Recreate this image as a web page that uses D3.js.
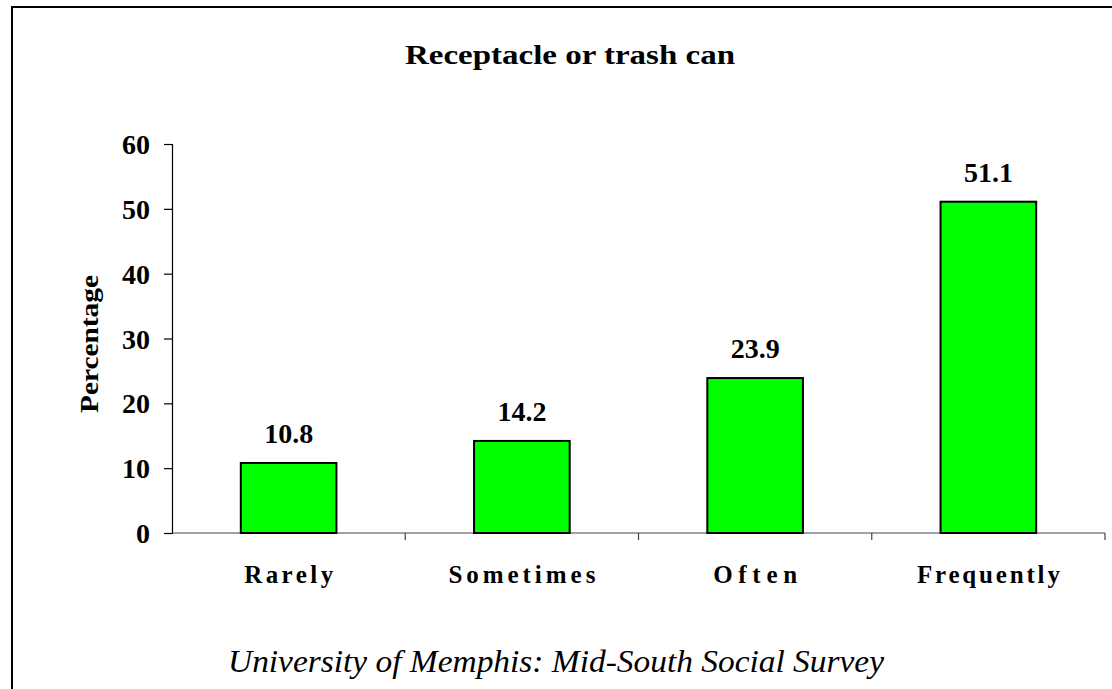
<!DOCTYPE html>
<html><head><meta charset="utf-8">
<script src="https://cdn.jsdelivr.net/npm/d3@7"></script>
<style>
html,body{margin:0;padding:0;background:#fff;}
svg{display:block;}
</style></head><body>
<svg id="chart" width="1112" height="689"></svg>
<script>
const categories = ["Rarely", "Sometimes", "Often", "Frequently"];
const values = [10.8, 14.2, 23.9, 51.1];
const yTicks = [0, 10, 20, 30, 40, 50, 60];
const titleText = "Receptacle or trash can";
const yAxisTitle = "Percentage";
const footerText = "University of Memphis: Mid-South Social Survey";
const catLabelWidths = [89, 147, 84, 143];

const SERIF = "'Liberation Serif', 'Times New Roman', Times, serif";
const svg = d3.select("#chart");
const plot = {left: 172, right: 1105, top: 144, bottom: 533};

// frame
svg.append("path").attr("d", "M12,689 L12,7 L1112,7")
  .attr("fill", "none").attr("stroke", "#000").attr("stroke-width", 2);

const x = d3.scaleBand().domain(categories).range([plot.left, plot.right]).paddingInner(0.59).paddingOuter(0.295);
const xb = d3.scaleBand().domain(categories).range([plot.left, plot.right]);
const y = d3.scaleLinear().domain([0, 60]).range([plot.bottom, plot.top]);

// y axis
const yAxis = svg.append("g").attr("transform", `translate(${plot.left},0)`)
  .call(d3.axisLeft(y).tickValues(yTicks).tickSize(8).tickPadding(14).tickFormat(d3.format("d")));
yAxis.attr("font-family", SERIF);
yAxis.select(".domain").attr("stroke", "#000").attr("stroke-width", 1.2);
yAxis.selectAll(".tick line").attr("stroke", "#000").attr("stroke-width", 1.2);
yAxis.selectAll(".tick text").style("font-family", SERIF).style("font-weight", "bold")
  .style("font-size", "28px").attr("fill", "#000").attr("dy", "0.34em");

// x axis line with ticks at band boundaries
const xAxis = svg.append("g").attr("transform", `translate(0,${plot.bottom})`);
xAxis.append("line").attr("x1", plot.left).attr("x2", plot.right).attr("stroke", "#444").attr("stroke-width", 1.2);
const bounds = categories.map(c => xb(c)).concat([xb(categories[categories.length-1]) + xb.bandwidth()]);
xAxis.selectAll(".xt").data(bounds.slice(1)).join("line")
  .attr("x1", d => d).attr("x2", d => d).attr("y1", 0).attr("y2", 7)
  .attr("stroke", "#444").attr("stroke-width", 1.2);
xAxis.selectAll(".xl").data(categories).join("text")
  .attr("x", d => xb(d) + xb.bandwidth()/2).attr("y", 50)
  .attr("text-anchor", "middle")
  .attr("textLength", (d,i) => catLabelWidths[i]).attr("lengthAdjust", "spacing")
  .attr("font-family", SERIF)
  .style("font-family", SERIF).style("font-weight", "bold").style("font-size", "25px")
  .attr("fill", "#000")
  .text(d => d);

// bars
svg.selectAll(".bar").data(values).join("rect")
  .attr("x", (d,i) => x(categories[i])).attr("width", x.bandwidth())
  .attr("y", d => y(d)).attr("height", d => y(0) - y(d))
  .attr("fill", "#00ff00").attr("stroke", "#000").attr("stroke-width", 2);

svg.selectAll(".val").data(values).join("text")
  .attr("x", (d,i) => x(categories[i]) + x.bandwidth()/2).attr("y", d => y(d) - 20)
  .attr("text-anchor", "middle").attr("font-family", SERIF)
  .style("font-family", SERIF).style("font-weight", "bold").style("font-size", "28px")
  .text(d => d3.format(".1f")(d));

// title
svg.append("text").attr("x", 570).attr("y", 64).attr("text-anchor", "middle")
  .attr("textLength", 330).attr("lengthAdjust", "spacingAndGlyphs").attr("font-family", SERIF)
  .style("font-family", SERIF).style("font-weight", "bold").style("font-size", "28px").text(titleText);

// y axis title
svg.append("text").attr("transform", "translate(98,344) rotate(-90)").attr("text-anchor", "middle")
  .attr("textLength", 138).attr("lengthAdjust", "spacingAndGlyphs").attr("font-family", SERIF)
  .style("font-family", SERIF).style("font-weight", "bold").style("font-size", "26px").text(yAxisTitle);

// footer
svg.append("text").attr("x", 556).attr("y", 672).attr("text-anchor", "middle")
  .attr("textLength", 656).attr("lengthAdjust", "spacingAndGlyphs").attr("font-family", SERIF)
  .style("font-family", SERIF).style("font-style", "italic").style("font-size", "31px").text(footerText);
</script></body></html>
